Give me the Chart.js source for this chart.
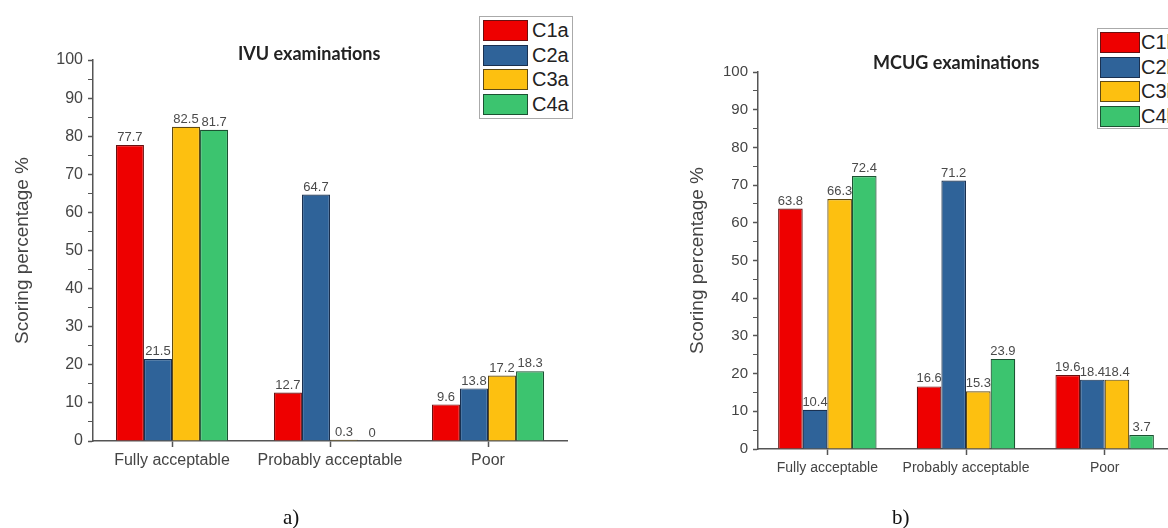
<!DOCTYPE html>
<html>
<head>
<meta charset="utf-8">
<script src="https://cdn.jsdelivr.net/npm/chart.js@4.4.0/dist/chart.umd.min.js"></script>
<style>
  html, body { margin: 0; padding: 0; background: #fff; }
  body { position: relative; width: 1168px; height: 528px; overflow: hidden; }
  .panel { position: absolute; top: 0; width: 620px; height: 528px; }
  .title { position: absolute; font: bold 18px Lato, 'Liberation Sans', sans-serif; color: #222; line-height: 20px; white-space: nowrap; }
  .legend { position: absolute; border: 1.5px solid #aaa; background: #fff; box-sizing: border-box; }
  .legend .row { position: absolute; left: 0; height: 21px; white-space: nowrap; }
  .legend .sw { position: absolute; top: 0; height: 21px; box-sizing: border-box; border: 1.5px solid #333; }
  .legend .txt { position: absolute; top: 0; font: 20px 'Liberation Sans', Arial, sans-serif; color: #222; line-height: 21px; }
  .caption { position: absolute; font: 21px 'Liberation Serif', 'Times New Roman', serif; color: #111; line-height: 24px; }
</style>
</head>
<body>
<div class="panel" style="left:0"><canvas id="chartA" width="620" height="528"></canvas></div>
<div class="panel" style="left:620px"><canvas id="chartB" width="620" height="528"></canvas></div>

<div class="title" style="left:238px; top:43px">IVU examinations</div>
<div class="title" style="left:873px; top:52px">MCUG examinations</div>

<div class="legend" id="legendA" style="left:479px; top:16px; width:94px; height:103px"></div>
<div class="legend" id="legendB" style="left:1097px; top:28px; width:94px; height:101px"></div>

<div class="caption" style="left:283px; top:505px">a)</div>
<div class="caption" style="left:892px; top:505px">b)</div>

<script>
(function () {
  'use strict'

  // Data
  var categories = ['Fully acceptable', 'Probably acceptable', 'Poor'];

  var ivuLabels = ['C1a', 'C2a', 'C3a', 'C4a'];
  var ivuC1a = [77.7, 12.7, 9.6];
  var ivuC2a = [21.5, 64.7, 13.8];
  var ivuC3a = [82.5, 0.3, 17.2];
  var ivuC4a = [81.7, 0, 18.3];

  var mcugLabels = ['C1b', 'C2b', 'C3b', 'C4b'];
  var mcugC1b = [63.8, 16.6, 19.6];
  var mcugC2b = [10.4, 71.2, 18.4];
  var mcugC3b = [66.3, 15.3, 18.4];
  var mcugC4b = [72.4, 23.9, 3.7];

  var yMin = 0;
  var yMax = 100;
  var yStep = 10;

  var fillColors = ['#ee0000', '#2f6399', '#fdc010', '#3cc46f'];
  var edgeColors = ['#6a1010', '#1a3050', '#5e4a14', '#1c5232'];

  // value labels above each bar
  var valueLabels = {
    id: 'valueLabels',
    afterDatasetsDraw: function (chart) {
      var ctx = chart.ctx;
      ctx.save();
      ctx.font = '13px "Liberation Sans", Arial, sans-serif';
      ctx.fillStyle = '#4a4a4a';
      ctx.textAlign = 'center';
      ctx.textBaseline = 'bottom';
      chart.data.datasets.forEach(function (ds, i) {
        chart.getDatasetMeta(i).data.forEach(function (bar, j) {
          ctx.fillText(String(ds.data[j]), bar.x, bar.y - 1);
        });
      });
      ctx.restore();
    }
  };

  function makeDatasets(labels, series) {
    return series.map(function (values, i) {
      return {
        label: labels[i],
        data: values,
        backgroundColor: fillColors[i],
        borderColor: edgeColors[i],
        borderWidth: 1.2,
        categoryPercentage: 0.71,
        barPercentage: 1.0
      };
    });
  }

  function makeChart(el, labels, series, o) {
    return new Chart(el, {
      type: 'bar',
      data: {
        labels: categories,
        datasets: makeDatasets(labels, series)
      },
      plugins: [valueLabels],
      options: {
        responsive: false,
        animation: false,
        devicePixelRatio: 1,
        layout: { padding: o.padding },
        plugins: {
          legend: { display: false },
          tooltip: { enabled: false },
          title: { display: false }
        },
        scales: {
          x: {
            afterFit: function (s) { s.height = 40; },
            grid: {
              offset: false,
              drawOnChartArea: false,
              tickLength: 6,
              tickColor: '#555',
              tickWidth: 1.5
            },
            border: { color: '#555', width: 1.5 },
            ticks: {
              color: '#444',
              padding: o.xPad,
              maxRotation: 0,
              autoSkip: false,
              font: { family: 'Liberation Sans', size: o.xFont }
            }
          },
          y: {
            min: yMin,
            max: yMax,
            afterFit: function (s) { s.width = o.yWidth; },
            grid: {
              drawOnChartArea: false,
              tickLength: 5,
              tickColor: '#555',
              tickWidth: function (c) { return c.tick.value % yStep === 0 ? 1.5 : 1; }
            },
            border: { color: '#555', width: 1.5 },
            ticks: {
              stepSize: yStep / 2,
              autoSkip: false,
              color: '#444',
              padding: 5,
              font: { family: 'Liberation Sans', size: o.yFont },
              callback: function (v) { return v % yStep === 0 ? v : ''; }
            },
            title: {
              display: true,
              text: 'Scoring percentage %',
              color: '#444',
              padding: { top: o.titlePad, bottom: 0 },
              font: { family: 'Liberation Sans', size: 19 }
            }
          }
        }
      }
    });
  }

  function buildLegend(box, chart, o) {
    chart.data.datasets.forEach(function (ds, i) {
      var row = document.createElement('div');
      row.className = 'row';
      row.style.top = (o.top + i * 24.5) + 'px';
      var sw = document.createElement('div');
      sw.className = 'sw';
      sw.style.left = o.swLeft + 'px';
      sw.style.width = o.swWidth + 'px';
      sw.style.background = ds.backgroundColor;
      sw.style.borderColor = ds.borderColor;
      var txt = document.createElement('span');
      txt.className = 'txt';
      txt.style.left = o.txtLeft + 'px';
      txt.textContent = ds.label;
      row.appendChild(sw);
      row.appendChild(txt);
      box.appendChild(row);
    });
  }

  var chartA = makeChart(document.getElementById('chartA'), ivuLabels,
    [ivuC1a, ivuC2a, ivuC3a, ivuC4a],
    { padding: { left: 0, right: 53, top: 60, bottom: 47 }, yWidth: 93, yFont: 16, xFont: 16, xPad: 4, titlePad: 11 });

  var chartB = makeChart(document.getElementById('chartB'), mcugLabels,
    [mcugC1b, mcugC2b, mcugC3b, mcugC4b],
    { padding: { left: 0, right: 66, top: 72, bottom: 39 }, yWidth: 138, yFont: 15, xFont: 14, xPad: 5, titlePad: 66 });

  buildLegend(document.getElementById('legendA'), chartA, { top: 3, swLeft: 3, swWidth: 45, txtLeft: 52 });
  buildLegend(document.getElementById('legendB'), chartB, { top: 3, swLeft: 2, swWidth: 40, txtLeft: 43 });
})()
</script>
</body>
</html>
